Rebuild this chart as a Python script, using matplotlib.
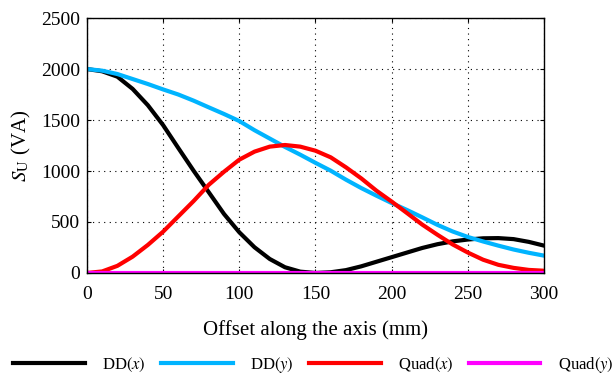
import numpy as np
import matplotlib.pyplot as plt

plt.rcParams['font.family'] = 'Liberation Serif'
plt.rcParams['mathtext.fontset'] = 'stix'

# offset along the axis (mm)
offset = [0, 10, 20, 30, 40, 50, 60, 70, 80, 90, 100, 110, 120, 130, 140, 150,
          160, 170, 180, 190, 200, 210, 220, 230, 240, 250, 260, 270, 280, 290, 300]

# S_U (VA)
dd_x = [2000, 1978, 1925, 1805, 1645, 1450, 1225, 1003, 791, 578, 399, 252, 137, 56, 13, 0,
        7, 28, 65, 110, 155, 200, 245, 282, 310, 328, 340, 342, 332, 305, 268]
dd_y = [2000, 1984, 1951, 1902, 1853, 1800, 1750, 1690, 1624, 1559, 1490, 1400, 1318, 1236, 1160, 1080,
        1003, 915, 833, 758, 686, 618, 546, 472, 407, 353, 309, 268, 230, 198, 170]
quad_x = [0, 15, 70, 160, 275, 405, 555, 705, 865, 993, 1111, 1190, 1239, 1255, 1239, 1199,
          1134, 1036, 928, 807, 700, 588, 475, 375, 280, 200, 130, 80, 50, 30, 22]
quad_y = [0] * len(offset)

fig = plt.figure(figsize=(6.12, 3.76), dpi=100)
ax = fig.add_axes([0.142, 0.274, 0.747, 0.678])

ax.plot(offset, dd_x, color='black', lw=3, label=r'DD$(x)$')
ax.plot(offset, dd_y, color='#00B4FF', lw=3, label=r'DD$(y)$')
ax.plot(offset, quad_x, color='#FF0000', lw=3, label=r'Quad$(x)$')
ax.plot(offset, quad_y, color='#FF00FF', lw=3, label=r'Quad$(y)$')

ax.set_xlim(0, 300)
ax.set_ylim(0, 2500)
ax.set_xticks(np.arange(0, 301, 50))
ax.set_yticks(np.arange(0, 2501, 500))
ax.tick_params(direction='in', top=True, right=True, labelsize=14, length=3)
ax.tick_params(axis='x', pad=9.5)
ax.tick_params(axis='y', pad=5)
ax.grid(True, color='black', linestyle=(0, (1, 4)), linewidth=0.8)
for s in ax.spines.values():
    s.set_linewidth(1.0)

ax.set_xlabel('Offset along the axis (mm)', fontsize=15, labelpad=12)
ax.set_ylabel(r'$S_{\mathrm{U}}$ (VA)', fontsize=15, labelpad=6)

fig.legend(loc='center', bbox_to_anchor=(0.512, 0.03), ncol=4, frameon=False,
           fontsize=12, handlelength=4.3, handletextpad=1.05, columnspacing=0.9)

fig.savefig('out.png', dpi=100)
